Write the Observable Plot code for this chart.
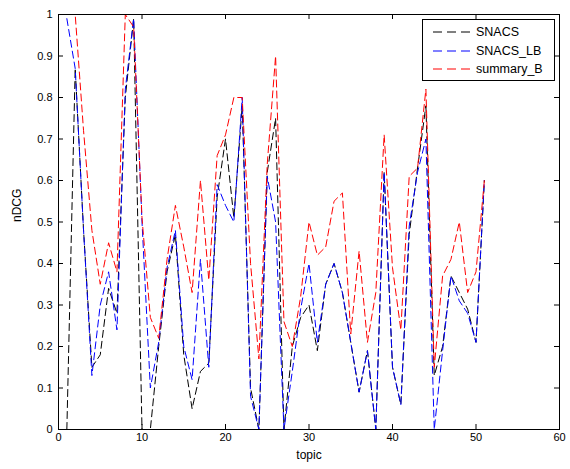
<!DOCTYPE html>
<html><head><meta charset="utf-8">
<script src="https://cdn.jsdelivr.net/npm/d3@7"></script>
<script src="https://cdn.jsdelivr.net/npm/@observablehq/plot@0.6"></script>
<style>
body{margin:0;background:#fff;}
#wrap{position:relative;width:570px;height:469px;}
#legend{position:absolute;left:422px;top:19px;width:133px;height:62px;border:1px solid #000;background:#fff;box-sizing:border-box;font:12.5px "Liberation Sans",Arial,sans-serif;color:#000;padding-top:3px;}
#legend .row{display:flex;align-items:center;height:18.5px;}
#legend svg{margin-left:10px;margin-right:3px;}
</style>
</head><body>
<div id="wrap"></div>
<script>
const topics = [1,2,3,4,5,6,7,8,9,10,11,12,13,14,15,16,17,18,19,20,21,22,23,24,25,26,27,28,29,30,31,32,33,34,35,36,37,38,39,40,41,42,43,44,45,46,47,48,49,50,51];
const snacs = [0,0.87,0.48,0.15,0.18,0.34,0.28,0.80,0.99,0,0,0.20,0.38,0.47,0.18,0.05,0.14,0.16,0.56,0.70,0.51,0.78,0.10,0,0.62,0.75,0,0.20,0.27,0.30,0.19,0.35,0.40,0.33,0.21,0.09,0.19,0,0.62,0.15,0.06,0.47,0.63,0.78,0.13,0.20,0.37,0.33,0.29,0.21,0.60];
const snacsLB = [0.99,0.87,0.48,0.13,0.30,0.38,0.24,0.82,0.99,0.50,0.10,0.21,0.39,0.48,0.20,0.12,0.41,0.15,0.59,0.54,0.50,0.80,0.08,0,0.61,0.50,0,0.14,0.29,0.40,0.21,0.35,0.40,0.33,0.21,0.09,0.19,0,0.62,0.15,0.06,0.49,0.62,0.70,0,0.19,0.37,0.31,0.28,0.21,0.60];
const summaryB = [1,1,0.72,0.48,0.35,0.45,0.38,1,0.97,0.51,0.27,0.22,0.41,0.54,0.44,0.33,0.60,0.36,0.66,0.71,0.80,0.80,0.40,0.17,0.64,0.90,0.26,0.20,0.32,0.50,0.42,0.44,0.55,0.57,0.23,0.43,0.21,0.33,0.71,0.39,0.24,0.61,0.63,0.82,0.15,0.37,0.41,0.50,0.33,0.38,0.60];
const seriesNames = ["SNACS","SNACS_LB","summary_B"];
const seriesColors = ["#000000","#0000ff","#ff0000"];
const xTicks = [0,10,20,30,40,50,60];
const yTicks = [0,0.1,0.2,0.3,0.4,0.5,0.6,0.7,0.8,0.9,1];
const xLabel = "topic";
const yLabel = "nDCG";

const W = 570, H = 469, mL = 58, mR = 11, mT = 14, mB = 40, tick = 5;
const frameW = W - mL - mR, frameH = H - mT - mB;

const seriesValues = [snacs, snacsLB, summaryB];
const dash = "7,4";

const lineMarks = seriesValues.map((vals, s) =>
  Plot.lineY(vals, {x: (d, i) => topics[i], y: d => d, stroke: seriesColors[s], strokeWidth: 1, strokeDasharray: dash, clip: true})
);

const fmt = d => d3.format("~g")(d);

const chart = Plot.plot({
  width: W, height: H,
  marginLeft: mL, marginRight: mR, marginTop: mT, marginBottom: mB,
  style: {fontFamily: "'Liberation Sans', Arial, sans-serif", fontSize: "11px", background: "#fff", color: "#000"},
  x: {domain: [0, 60], label: null},
  y: {domain: [0, 1], label: null},
  marks: [
    ...lineMarks,
    Plot.frame({stroke: "#000", strokeWidth: 1}),
    // inward ticks on all four sides (MATLAB box style)
    Plot.tickX(xTicks, {x: d => d, stroke: "#000", insetTop: frameH - tick}),
    Plot.tickX(xTicks, {x: d => d, stroke: "#000", insetBottom: frameH - tick}),
    Plot.tickY(yTicks, {y: d => d, stroke: "#000", insetRight: frameW - tick}),
    Plot.tickY(yTicks, {y: d => d, stroke: "#000", insetLeft: frameW - tick}),
    Plot.axisX(xTicks, {anchor: "bottom", tickSize: 0, tickPadding: 4, tickFormat: fmt, label: null}),
    Plot.axisY(yTicks, {anchor: "left", tickSize: 0, tickPadding: 6, tickFormat: fmt, label: null}),
    Plot.text([xLabel], {frameAnchor: "bottom", dy: 29, fontSize: 12}),
    Plot.text([yLabel], {frameAnchor: "left", dx: -41, rotate: -90, fontSize: 12})
  ]
});

const wrap = document.getElementById("wrap");
wrap.appendChild(chart);

const legend = document.createElement("div");
legend.id = "legend";
seriesNames.forEach((name, s) => {
  const row = document.createElement("div");
  row.className = "row";
  row.innerHTML = `<svg width="40" height="6"><line x1="0" y1="3" x2="40" y2="3" stroke="${seriesColors[s]}" stroke-width="1" stroke-dasharray="9,5"/></svg><span>${name}</span>`;
  legend.appendChild(row);
});
wrap.appendChild(legend);
</script>
</body></html>
